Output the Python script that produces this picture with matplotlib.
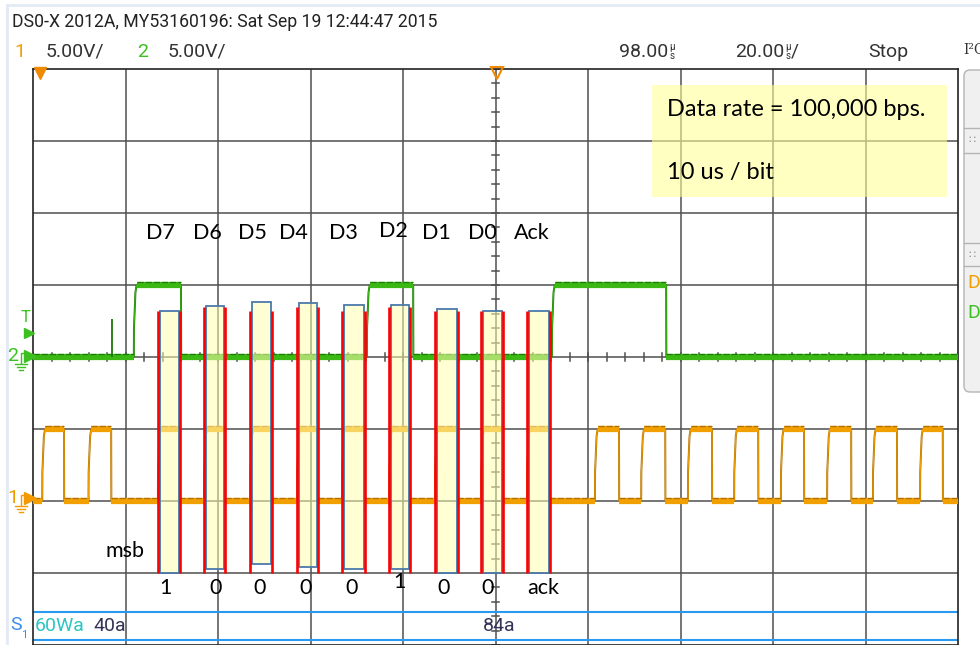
import matplotlib
matplotlib.use("Agg")
import matplotlib.pyplot as plt
from matplotlib.patches import Rectangle, FancyBboxPatch
import numpy as np

# channel 1 (SCL) edges, in microseconds
scl_rise = [0.0, 10.0, 25.0, 35.0, 45.0, 55.1, 64.8, 75.0, 84.9, 94.9, 104.8,
            119.5, 129.5, 139.6, 149.6, 159.7, 169.7, 179.6, 189.8]
scl_fall = [4.7, 14.9, 29.6, 39.5, 49.5, 59.6, 69.6, 79.5, 89.7, 99.6, 109.6,
            124.7, 134.7, 144.8, 154.8, 164.7, 174.9, 184.8, 194.7]

# channel 2 (SDA) edges, in microseconds
sda_rise = [19.8, 70.2, 110.2]
sda_fall = [30.0, 80.2, 134.9]
sda_glitch_t = [15.1]
sda_glitch_v = [0.53]

bit_names = ["D7", "D6", "D5", "D4", "D3", "D2", "D1", "D0", "Ack"]
bit_values = ["1", "0", "0", "0", "0", "1", "0", "0", "ack"]

# scope settings: 20 us/div, delay 98 us, 5 V/div
t_div = 20.0
t_delay = 98.0
ch1_offset = -2.0   # divisions
ch2_offset = 0.0

GRID = "#505050"
GREEN, GREEN_D = "#3cb814", "#1c7a05"
ORANGE, ORANGE_D = "#f2a000", "#b06e00"
TEXT_FONT = ["Lato", "DejaVu Sans"]
SCOPE_FONT = ["Roboto", "DejaVu Sans"]

fig = plt.figure(figsize=(9.8, 6.45), dpi=100)
fig.patch.set_facecolor("white")

ax = fig.add_axes([33 / 980, 0, 925 / 980, 576 / 645])
t0, t1 = t_delay - 5 * t_div, t_delay + 5 * t_div
ax.set_xlim(t0, t1)
ax.set_ylim(-4, 4)
ax.set_xticks([])
ax.set_yticks([])
for s in ax.spines.values():
    s.set_color("#222222")
    s.set_linewidth(1.2)

# graticule
for x in np.arange(t0 + t_div, t1, t_div):
    ax.axvline(x, color=GRID, lw=1.1, zorder=1)
for y in range(-3, 4):
    ax.axhline(y, color=GRID, lw=1.1, zorder=1)
for y in np.arange(-4, 4.01, 0.2):
    ax.plot([t_delay - 0.75, t_delay + 0.75], [y, y], color=GRID, lw=1.1, zorder=1)
for x in np.arange(t0, t1 + 0.01, t_div / 5):
    ax.plot([x, x], [-0.05, 0.05], color=GRID, lw=1.1, zorder=1)

# serial decode lane
for y in [-3.54, -3.93]:
    ax.axhline(y, color="#2a9af0", lw=1.5, zorder=2)


def build_trace(rises, falls, base):
    edges = sorted([(t, 1) for t in rises] + [(t, 0) for t in falls])
    ts, vs = [t0], [0.0]
    flats = []
    cur_t, cur_v = t0, 1 - edges[0][1]
    for te, kind in edges:
        flats.append((cur_t, te, cur_v))
        if kind == 1:
            ts += [te, te + 0.03, te + 0.35, te + 0.6]
            vs += [0, 0.4, 0.9, 1]
            cur_t, cur_v = te + 0.6, 1
        else:
            ts += [te, te + 0.04]
            vs += [1, 0]
            cur_t, cur_v = te + 0.04, 0
    flats.append((cur_t, t1, cur_v))
    ts.append(t1)
    vs.append(cur_v)
    return np.array(ts), np.array(vs) + base, flats


def draw_trace(rises, falls, base, main, dark):
    ts, vs, flats = build_trace(rises, falls, base)
    ax.plot(ts, vs, color=dark, lw=1.4, zorder=3)
    ax.plot(ts, vs, color=main, lw=0.7, zorder=3)
    for a, b, lev in flats:
        ax.plot([a, b], [lev + base] * 2, color=main, lw=4.5, zorder=3,
                solid_capstyle="butt")
        ax.plot([a, b], [lev + base + 0.035] * 2, color=dark, lw=0.9, zorder=3,
                dashes=(5, 1.5))


draw_trace(sda_rise, sda_fall, ch2_offset, GREEN, GREEN_D)
ax.vlines(sda_glitch_t, ch2_offset, np.array(sda_glitch_v) + ch2_offset,
          color=GREEN_D, lw=1.3, zorder=3)
draw_trace(scl_rise, scl_fall, ch1_offset, ORANGE, ORANGE_D)

# highlighted clock pulses for the address byte and ack
box_top = [0.64, 0.71, 0.76, 0.75, 0.72, 0.72, 0.67, 0.64, 0.64]
box_bot = [-3.0, -2.94, -2.875, -2.92, -2.94, -2.94, -3.0, -3.0, -3.0]
red_top = [0.64, 0.69, 0.64, 0.69, 0.64, 0.69, 0.64, 0.64, 0.64]
for i in range(len(bit_names)):
    r, f = scl_rise[2 + i], scl_fall[2 + i]
    ax.add_patch(Rectangle((r + 0.45, box_bot[i]), f - r - 0.55,
                           box_top[i] - box_bot[i], facecolor="#ffffb0",
                           alpha=0.55, edgecolor="none", zorder=4))
    ax.add_patch(Rectangle((r + 0.45, box_bot[i]), f - r - 0.55,
                           box_top[i] - box_bot[i], facecolor="none",
                           edgecolor="#4a7aab", lw=1.3, zorder=5))
    ax.vlines([r, f + 0.1], -3.0, red_top[i], color="#ff0000", lw=1.9, zorder=6)

# overlay in pixel units for the screen furniture and notes
ov = fig.add_axes([0, 0, 1, 1])
ov.set_xlim(0, 980)
ov.set_ylim(645, 0)
ov.axis("off")
fig.canvas.draw()
px = 980 / fig.bbox.width


def fit(txt, width):
    # squeeze a scope label to the width it takes on screen
    w = txt.get_window_extent(fig.canvas.get_renderer()).width * px
    if w > width:
        txt.set_fontsize(txt.get_fontsize() * width / w)
    return txt


ov.plot([7, 980], [5, 5], color="#e2eaf4", lw=2)
ov.plot([7, 7], [5, 645], color="#e2eaf4", lw=2)

fit(ov.text(12, 22, "DS0-X 2012A, MY53160196: Sat Sep 19 12:44:47 2015",
            fontsize=14, family=SCOPE_FONT, color="#222222", va="center"), 428)
ov.text(14, 52, "1", fontsize=14, family=SCOPE_FONT, color=ORANGE, va="center")
ov.text(46, 52, "5.00V/", fontsize=14, family=SCOPE_FONT, color="#333333", va="center")
ov.text(137, 52, "2", fontsize=14, family=SCOPE_FONT, color="#3cc020", va="center")
ov.text(168, 52, "5.00V/", fontsize=14, family=SCOPE_FONT, color="#333333", va="center")
for x, s, tail in [(619, "98.00", ""), (735, "20.00", "/")]:
    tx = ov.text(x, 52, s, fontsize=14, family=SCOPE_FONT, color="#333333", va="center")
    bb = tx.get_window_extent(fig.canvas.get_renderer())
    xe = bb.x1 * px + 1
    ov.text(xe, 47, "\u00b5", fontsize=7, family=SCOPE_FONT, color="#333333", va="center")
    ov.text(xe, 56, "s", fontsize=7, family=SCOPE_FONT, color="#333333", va="center")
    if tail:
        ov.text(xe + 6, 52, tail, fontsize=14, family=SCOPE_FONT, color="#333333", va="center")
ov.text(868, 52, "Stop", fontsize=14, family=SCOPE_FONT, color="#333333", va="center")
ov.text(963, 50, "I\u00b2C", fontsize=10, family=["DejaVu Serif"], color="#333333",
        va="center", clip_on=False)

# trigger and delay markers
ov.plot([40], [73], marker="v", ms=8, color="#f08a00", mec="#f08a00")
ov.plot([497], [73], marker="v", ms=9, mfc="none", mec="#f08a00", mew=1.5)

# channel markers on the left
ov.text(25, 318, "T", fontsize=12, family=SCOPE_FONT, color="#3cc020", ha="center", va="center")
ov.plot([29], [333], marker=">", ms=7, color="#3cc020")
for y, lab, col in [(356, "2", "#3cc020"), (498, "1", "#f29a00")]:
    ov.text(13, y, lab, fontsize=14, family=SCOPE_FONT, color=col, ha="center", va="center")
    ov.plot([27, 21, 21], [y - 3, y - 3, y + 7], color=col, lw=1)
    for k, w in enumerate([6, 4, 2]):
        ov.plot([21 - w, 21 + w], [y + 8 + 3 * k] * 2, color=col, lw=1)
    ov.plot([30], [y], marker=">", ms=8, color=col)

# right side panel
ov.add_patch(FancyBboxPatch((964, 70), 30, 322, boxstyle="round,pad=0,rounding_size=6",
                            facecolor="#f0f0f0", edgecolor="#b4b4b4", lw=1))
for y in [128, 153, 243, 266]:
    ov.plot([964, 980], [y, y], color="#b4b4b4", lw=1)
for y in [140, 255]:
    ov.text(972, y, "\u2237", fontsize=8, color="#888888", ha="center", va="center")
ov.text(967, 283, "D", fontsize=14, family=SCOPE_FONT, color=ORANGE, va="center")
ov.text(967, 313, "D", fontsize=14, family=SCOPE_FONT, color="#3cc020", va="center")

# decode lane text
ov.text(10, 625, "S", fontsize=14, family=SCOPE_FONT, color="#3a8ee6", va="center")
ov.text(21, 635, "1", fontsize=8, family=SCOPE_FONT, color="#3a8ee6", va="center")
ov.text(35, 626, "60Wa", fontsize=14, family=SCOPE_FONT, color="#2ec4c4", va="center")
ov.text(93, 626, "40a", fontsize=14, family=SCOPE_FONT, color="#333355", va="center")
ov.text(483, 626, "84a", fontsize=14, family=SCOPE_FONT, color="#333355", va="center")

# bit annotations
name_x = [160, 207, 252, 293, 343, 393, 436, 482, 532]
name_y = [233, 233, 233, 233, 233, 231, 233, 233, 233]
for x, y, s in zip(name_x, name_y, bit_names):
    ov.text(x, y, s, fontsize=15.5, family=TEXT_FONT, color="black", ha="center", va="center")
val_x = [165, 216, 260, 306, 352, 399, 444, 488, 543]
val_y = [588, 588, 588, 588, 588, 582, 588, 588, 588]
for x, y, s in zip(val_x, val_y, bit_values):
    ov.text(x, y, s, fontsize=15.5, family=TEXT_FONT, color="black", ha="center", va="center")
ov.text(125, 551, "msb", fontsize=15.5, family=TEXT_FONT, color="black", ha="center", va="center")

# note box
ov.add_patch(Rectangle((652, 85), 295, 112, facecolor="#ffff99", alpha=0.6,
                       edgecolor="none", zorder=5))
ov.text(667, 109, "Data rate = 100,000 bps.", fontsize=17, family=TEXT_FONT,
        color="black", va="center", zorder=6)
ov.text(667, 172, "10 us / bit", fontsize=17, family=TEXT_FONT,
        color="black", va="center", zorder=6)

fig.savefig("out.png", dpi=100)
